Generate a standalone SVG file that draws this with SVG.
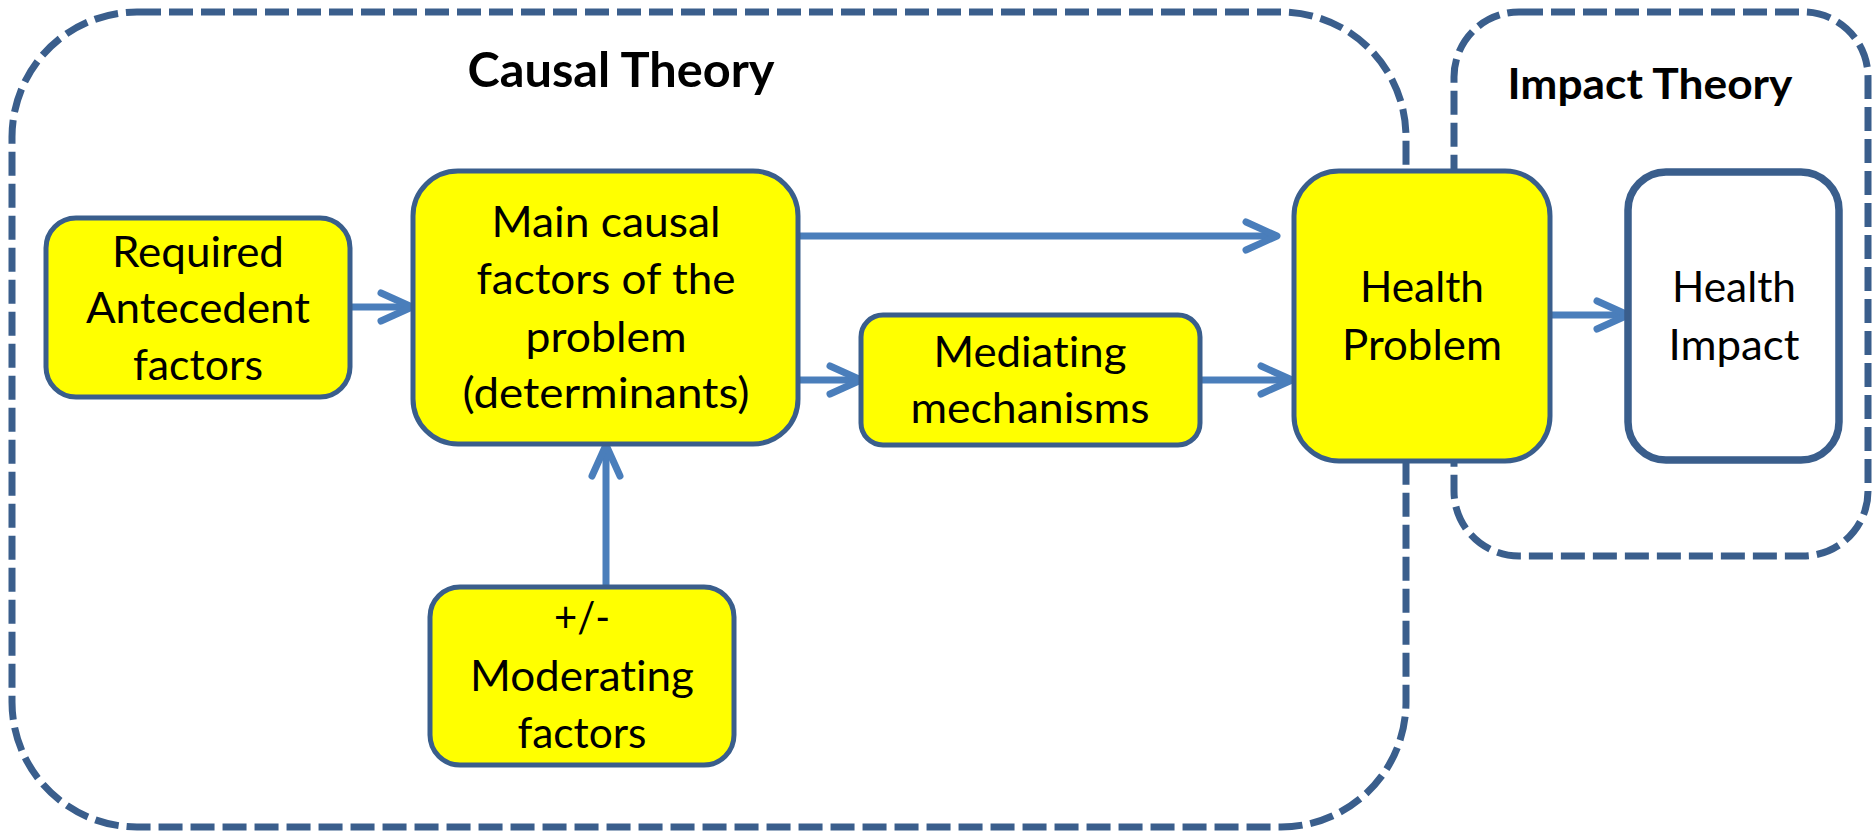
<svg xmlns="http://www.w3.org/2000/svg" width="1872" height="834" viewBox="0 0 1872 834">
  <style>
    .frame { fill: none; stroke: #3A5E8C; stroke-width: 7; stroke-dasharray: 24 8; }
    .box { fill: #FFFF00; stroke: #3A5E8C; stroke-width: 5; }
    .box-white { fill: #FFFFFF; stroke: #3A5E8C; stroke-width: 7.5; }
    .conn { fill: none; stroke: #4A7EBB; stroke-width: 7; marker-end: url(#ah); }
    .t { font-family: Lato, "Liberation Sans", sans-serif; font-size: 42px; fill: #000; text-anchor: middle; font-variant-ligatures: none; }
    .title { font-family: Lato, "Liberation Sans", sans-serif; font-weight: bold; fill: #000; text-anchor: middle; font-variant-ligatures: none; }
  </style>
  <defs>
    <marker id="ah" viewBox="-40 -20 46 40" refX="0" refY="0" markerWidth="46" markerHeight="40" markerUnits="userSpaceOnUse" orient="auto" overflow="visible">
      <path d="M-31,-14 L0,0 L-31,14" fill="none" stroke="#4A7EBB" stroke-width="7" stroke-linecap="round" stroke-linejoin="round"/>
    </marker>
  </defs>
  <rect width="1872" height="834" fill="#FFFFFF"/>

  <g id="causal-theory">
    <rect class="frame" x="12" y="12" width="1394" height="815" rx="125" ry="125"/>
    <text class="title" x="621" y="87" font-size="48" textLength="307" lengthAdjust="spacingAndGlyphs">Causal Theory</text>
  </g>
  <g id="impact-theory">
    <rect class="frame" x="1454" y="12" width="414" height="544" rx="65" ry="65"/>
    <text class="title" x="1650" y="99" font-size="42.5" textLength="285" lengthAdjust="spacingAndGlyphs">Impact Theory</text>
  </g>

  <g id="connectors">
    <path class="conn" d="M350,307 H412"/>
    <path class="conn" d="M798,236 H1277"/>
    <path class="conn" d="M798,380 H861"/>
    <path class="conn" d="M1200,380 H1292"/>
    <path class="conn" d="M1550,315 H1628"/>
    <path class="conn" d="M606,587 V445"/>
  </g>

  <g id="required-antecedent">
    <rect class="box" x="46" y="218" width="304" height="179" rx="30" ry="30"/>
    <text class="t" x="198" y="267" textLength="172" lengthAdjust="spacingAndGlyphs">Required</text>
    <text class="t" x="198" y="323" textLength="224" lengthAdjust="spacingAndGlyphs">Antecedent</text>
    <text class="t" x="198" y="380" textLength="130" lengthAdjust="spacingAndGlyphs">factors</text>
  </g>

  <g id="main-causal">
    <rect class="box" x="413" y="171" width="385" height="273" rx="45" ry="45"/>
    <text class="t" x="606" y="237" textLength="229" lengthAdjust="spacingAndGlyphs">Main causal</text>
    <text class="t" x="606" y="294" textLength="259" lengthAdjust="spacingAndGlyphs">factors of the</text>
    <text class="t" x="606" y="352" textLength="161" lengthAdjust="spacingAndGlyphs">problem</text>
    <text class="t" x="606" y="408" textLength="287" lengthAdjust="spacingAndGlyphs">(determinants)</text>
  </g>

  <g id="mediating">
    <rect class="box" x="861" y="315" width="339" height="130" rx="22" ry="22"/>
    <text class="t" x="1030" y="367" textLength="193" lengthAdjust="spacingAndGlyphs">Mediating</text>
    <text class="t" x="1030" y="423" textLength="239" lengthAdjust="spacingAndGlyphs">mechanisms</text>
  </g>

  <g id="moderating">
    <rect class="box" x="430" y="587" width="304" height="178" rx="30" ry="30"/>
    <text class="t" x="582" y="632" textLength="56" lengthAdjust="spacingAndGlyphs">+/-</text>
    <text class="t" x="582" y="691" textLength="224" lengthAdjust="spacingAndGlyphs">Moderating</text>
    <text class="t" x="582" y="748" textLength="129" lengthAdjust="spacingAndGlyphs">factors</text>
  </g>

  <g id="health-problem">
    <rect class="box" x="1294" y="171" width="256" height="290" rx="45" ry="45"/>
    <text class="t" x="1422" y="302" textLength="124" lengthAdjust="spacingAndGlyphs">Health</text>
    <text class="t" x="1422" y="360" textLength="160" lengthAdjust="spacingAndGlyphs">Problem</text>
  </g>

  <g id="health-impact">
    <rect class="box-white" x="1628" y="172" width="211" height="288" rx="38" ry="38"/>
    <text class="t" x="1734" y="302" textLength="124" lengthAdjust="spacingAndGlyphs">Health</text>
    <text class="t" x="1734" y="360" textLength="131" lengthAdjust="spacingAndGlyphs">Impact</text>
  </g>
</svg>
